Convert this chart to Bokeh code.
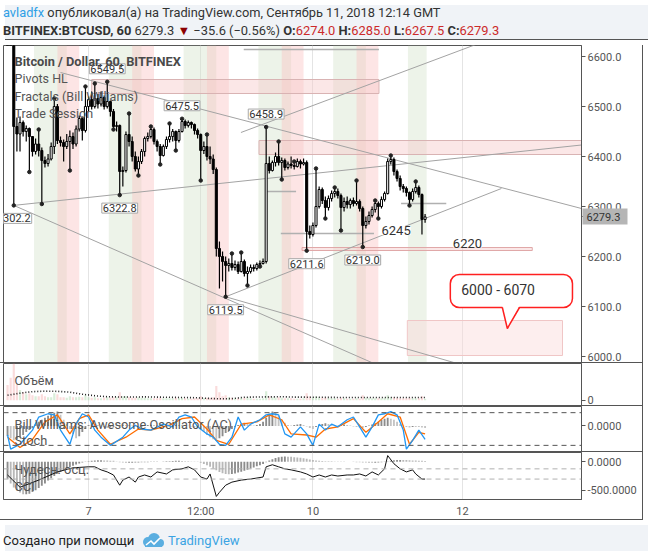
from bokeh.plotting import figure
from bokeh.models import (Range1d, FixedTicker, Grid, LinearAxis, Label, Span,
                          PrintfTickFormatter, Div, ColumnDataSource)
from bokeh.layouts import column
from bokeh.embed import file_html
from bokeh.resources import INLINE

# ---------------- data ----------------
SYMBOL = "BITFINEX:BTCUSD"
INTERVAL = "60"
AUTHOR = "avladfx"
PUBLISHED = "Сентябрь 11, 2018 12:14 GMT"
LAST = 6279.3
CHANGE = -35.6
CHANGE_PCT = -0.56
Q_OPEN, Q_HIGH, Q_LOW, Q_CLOSE = 6274.0, 6285.0, 6267.5, 6279.3

# hours counted from 7 Sep 2018 00:00 (hourly bars)
HOURS = list(range(-26, 109))
FIRST_OPEN = 6720
CLOSE = [6705, 6690, 6460, 6445, 6468, 6450, 6456, 6440, 6410, 6425, 6412, 6392, 6386,
         6395, 6420, 6500, 6432, 6428, 6420, 6430, 6440, 6425, 6455, 6476, 6452, 6500,
         6514, 6500, 6516, 6505, 6518, 6500, 6510, 6490, 6460, 6462, 6370, 6372, 6444,
         6430, 6400, 6375, 6390, 6410, 6436, 6440, 6454, 6430, 6420, 6402, 6420, 6434,
         6440, 6450, 6432, 6450, 6470, 6462, 6468, 6464, 6452, 6444, 6412, 6420, 6400,
         6395, 6374, 6216, 6200, 6190, 6182, 6186, 6178, 6184, 6170, 6190, 6166, 6170,
         6178, 6176, 6184, 6186, 6190, 6386, 6372, 6388, 6400, 6388, 6392, 6378, 6385,
         6382, 6380, 6390, 6385, 6388, 6250, 6244, 6262, 6300, 6334, 6312, 6298, 6316,
         6326, 6330, 6322, 6298, 6310, 6304, 6312, 6306, 6310, 6296, 6262, 6270, 6282,
         6294, 6306, 6300, 6314, 6326, 6390, 6394, 6370, 6356, 6340, 6336, 6328, 6314,
         6330, 6338, 6324, 6274, 6279.3]
HIGH = [6740, 6720, 6700, 6478, 6480, 6472, 6462, 6458, 6440, 6436, 6454, 6418, 6400,
        6405, 6428, 6516, 6505, 6440, 6434, 6445, 6452, 6448, 6462, 6482, 6480, 6540,
        6520, 6530, 6546, 6525, 6530, 6522, 6549.5, 6512, 6495, 6470, 6464, 6380, 6450,
        6486, 6440, 6410, 6400, 6415, 6440, 6448, 6460, 6458, 6434, 6425, 6424, 6440,
        6466, 6455, 6452, 6455, 6475.5, 6474, 6472, 6470, 6466, 6456, 6446, 6430, 6444,
        6420, 6404, 6378, 6230, 6210, 6200, 6196, 6206, 6192, 6190, 6208, 6194, 6180,
        6184, 6184, 6188, 6192, 6196, 6458.9, 6400, 6392, 6408, 6430, 6398, 6396, 6390,
        6400, 6390, 6396, 6394, 6396, 6392, 6262, 6268, 6376, 6340, 6338, 6320, 6322,
        6332, 6338, 6336, 6326, 6318, 6320, 6316, 6318, 6352, 6314, 6300, 6280, 6290,
        6300, 6312, 6310, 6320, 6330, 6396, 6402, 6398, 6374, 6362, 6345, 6340, 6330,
        6336, 6350, 6342, 6326, 6285]
LOW = [6680, 6660, 6302.2, 6410, 6410, 6440, 6430, 6369, 6400, 6404, 6400, 6305, 6378,
       6380, 6392, 6405, 6425, 6420, 6390, 6415, 6372, 6415, 6420, 6450, 6432, 6448,
       6490, 6494, 6496, 6496, 6500, 6494, 6496, 6480, 6454, 6450, 6322.8, 6340, 6368,
       6420, 6390, 6370, 6362, 6385, 6400, 6430, 6436, 6424, 6410, 6384, 6400, 6415,
       6428, 6430, 6412, 6428, 6448, 6456, 6458, 6456, 6444, 6436, 6352, 6405, 6392,
       6385, 6365, 6200, 6136, 6150, 6119.5, 6170, 6172, 6172, 6165, 6168, 6160, 6142,
       6166, 6170, 6172, 6180, 6184, 6186, 6366, 6370, 6380, 6382, 6354, 6372, 6374,
       6376, 6374, 6378, 6376, 6382, 6211.6, 6236, 6240, 6258, 6296, 6305, 6276, 6292,
       6310, 6318, 6316, 6252, 6290, 6296, 6296, 6300, 6302, 6290, 6219, 6256, 6264,
       6278, 6288, 6276, 6296, 6310, 6324, 6384, 6362, 6350, 6332, 6328, 6320, 6302,
       6310, 6326, 6318, 6244, 6267.5]
VOLUME = [1500, 2200, 3700, 1500, 1000, 800, 600, 700, 500, 400, 400, 600, 400, 300, 300,
          700, 600, 300, 300, 250, 400, 300, 300, 350, 300, 500,
          300, 250, 300, 200, 200, 250, 300, 250, 300, 300,
          800, 400, 400, 300, 250, 250, 300, 250, 250, 200,
          200, 200, 200, 250, 200, 200, 200, 200, 250, 200,
          250, 200, 150, 150, 200, 200, 400, 200, 250, 250,
          300, 1400, 800, 400, 500, 300, 250, 200, 200, 250,
          250, 300, 200, 150, 150, 150, 200, 900, 400, 300,
          250, 300, 250, 200, 200, 200, 150, 150, 150, 200,
          700, 400, 300, 400, 300, 250, 250, 200, 200, 200,
          150, 250, 200, 150, 150, 150, 200, 150, 500, 250,
          200, 200, 200, 200, 200, 250, 500, 300, 300, 250,
          200, 200, 200, 250, 200, 200, 200, 400, 150]
VOL_MA_HOURS = [-26, -22, -18, -14, -10, -6, -2, 2, 6, 10, 14, 18, 22, 26, 30, 34, 38, 42,
                46, 50, 54, 58, 62, 66, 70, 74, 78, 82, 86, 90, 94, 98, 102, 106, 108]
VOL_MA = [500, 700, 850, 900, 880, 800, 600, 450, 350, 330, 320, 340, 320, 300, 280, 260,
          200, 150, 170, 300, 330, 340, 350, 320, 310, 300, 290, 280, 280, 280, 280, 280,
          280, 280, 280]
AC = [-10, -12, -14, -13, -11, -9, -6, -4, -2, 2, 4, 6, 8, 10, 12, 13, 14, 11, 6, 2,
      -3, -8, -12, -10, -6, -3, 1, 3, 2, 1,
      0.5, -1, -2, -1.5, -1, 0.5, 1, 1.5, 1,
      0.8, 0.5, -0.5, -1, -0.8, 0.5, 1, 1.2, 1, 0.6, -0.3, -0.5, 0.3,
      0.6, 1, 1.2, 1, 0.8, 0.5, 0.2, -0.5, -1, -2,
      -4, -6, -9, -11, -13, -14, -12, -10, -7, -5, -3,
      -1, 1, 2, 3, 2, 1, 0.5, 1, 2,
      4, 8, 12, 14, 13, 10, 6, 3,
      1, 0.5, 1, 1.5, 2, 1, -0.5, -2, -3,
      -1, 1, 2, 2.5, 2, 1.5, 1, 0.5, 1, 1.5,
      1, 0.5, -0.5, -1, -1.5, -2, -1, 0.5, 1.5, 2.5,
      4, 6, 7, 8, 7, 6, 4,
      2, 0.5, -1, -1.5, -1, -0.5, -1, -1.5, -2]
AO = [-300, -380, -450, -500, -540, -570, -570, -560, -530, -500, -460, -420, -380, -330,
      -290, -250, -210, -180, -150, -120, -95, -70, -50, -30, -15, -5,
      10, 15, 20, 25, 25, 22, 20, 18, 15,
      -5, -10, -15, -20, -20, -18, -15, -12, -10, -10, -8, -5,
      -5, -3, 0, 5, 8, 10, 12, 15, 15, 12, 10, 8, 5, 2, -5,
      -20, -40, -60, -90, -120, -150, -180, -200, -215, -220, -215,
      -205, -190, -175, -160, -140, -120, -100, -80, -60, -40,
      -10, 20, 45, 65, 80, 88, 90, 88, 85, 80,
      75, 70, 60, 50, 40, 30,
      20, 15, 12, 10, 8, 6, 5, 4, 3, 2, 0, -2,
      -5, -8, -10, -12, -15, -18, -20, -18, -15, -10, -5,
      5, 15, 25, 30, 32, 30, 28, 25, 22, 20, 18, 15, 12]
STOCH_K_HOURS = [-26, -25, -22, -18, -16, -13, -11, -9, -6, -4, -2, 0, 2, 4, 7, 11, 13, 15,
                 17, 20, 24, 27, 29, 31, 33, 35, 38, 40, 42, 44, 46, 48, 50, 52, 55, 57,
                 59, 61, 63, 65, 68, 70, 72, 74, 76, 78, 80, 83, 85, 87, 89, 91, 93, 95,
                 97, 99, 101, 102, 104, 106, 108]
STOCH_K = [39, 13, 22, 48, 72, 78, 76, 48, 22, 59, 78, 72, 48, 35, 20, 35, 48, 57, 50, 48,
           59, 54, 72, 76, 72, 54, 41, 35, 22, 20, 35, 72, 48, 59, 67, 76, 78, 76, 41, 35,
           54, 41, 20, 59, 48, 59, 54, 67, 72, 54, 35, 54, 76, 78, 82, 76, 48, 13, 29, 48, 31]
STOCH_D_HOURS = [-26, -22, -18, -14, -10, -6, -3, 0, 3, 7, 12, 16, 20, 26, 30, 34, 38, 41,
                 45, 49, 54, 58, 62, 65, 70, 73, 76, 80, 85, 89, 93, 96, 100, 103, 106, 108]
STOCH_D = [35, 16, 31, 63, 76, 41, 69, 76, 48, 22, 35, 50, 48, 57, 69, 72, 50, 29, 22, 59,
           63, 76, 67, 41, 39, 35, 50, 54, 69, 44, 63, 78, 72, 22, 44, 41]
STOCH_LEVELS = [80, 20]
CCI_HOURS = [-26, -22, -16, -10, -5, 0, 2, 4, 6, 8, 10, 11, 13, 15, 16, 18, 20, 22, 25, 27,
             30, 32, 34, 36, 38, 39, 41, 42, 44, 46, 49, 52, 56, 57, 59, 61, 63, 65, 68, 70,
             72, 74, 76, 78, 80, 83, 85, 87, 89, 91, 93, 95, 96, 98, 100, 102, 104, 105, 107, 108]
CCI = [-20, -260, -120, 40, 120, 140, 140, 80, 40, -20, -220, -120, -60, -160, -60, -20, -60,
       40, 0, 80, 100, 140, 80, -60, -100, 0, -440, -360, -220, -160, -120, -100, -60, 140,
       180, 140, 100, 80, 40, 0, -60, -20, -60, -20, -40, -20, -20, 0, -40, 40, -20, 100,
       360, 200, 100, 40, 80, 0, -100, -100]
CCI_LEVELS = [100, -100]

FRACTAL_UP_HOURS = [-16, -11, -1, 2, 6, 13, 20, 26, 30, 38, 46, 49, 57, 61, 66, 73, 79, 86,
                    92, 97, 105]
FRACTAL_DOWN_HOURS = [-24, -19, -15, -6, 8, 10, 16, 23, 28, 36, 44, 51, 55, 62, 70, 76, 81,
                      88, 93, 103]
PIVOT_HIGH_HOURS = [6, 30, 57]
PIVOT_LOW_HOURS = [-24, 10, 44, 70, 88]

X_TICKS = [0, 36, 72, 120]
X_TICK_LABELS = ["7", "12:00", "10", "12"]
PRICE_TICKS = [6000, 6100, 6200, 6300, 6400, 6500, 6600]
VOL_TICKS = [0]
AC_TICKS = [0]
AO_TICKS = [0, -500]

# trading sessions (hour of day)
SESSION_DAYS = [-24, 0, 24, 48, 72, 96]
GREEN_SESSION = (6.5, 17.0)
RED_SESSION = (14.0, 21.0)
LAST_BAR_EDGE = 108.5

# user drawings (hour, price)
TREND_X0 = [-9, -24, -24, 44, 44, 48.9]
TREND_Y0 = [6568, 6302.2, 6302.2, 6119.5, 6119.5, 6448]
TREND_X1 = [158.2, 158.2, 100, 120, 132.5, 126]
TREND_Y1 = [6296, 6423, 5963, 5983, 6336, 6628]
HLINE_X0 = [49.8, 56.9, 61.7, 100.3]
HLINE_X1 = [93.2, 66.6, 91.6, 114.8]
HLINE_Y = [6614, 6330, 6246, 6306]
RECT_LEFT = [1, 54.7, 102.3, 68.5]
RECT_RIGHT = [93.2, 158.2, 152.1, 142.4]
RECT_BOTTOM = [6526, 6404, 6002, 6212]
RECT_TOP = [6554, 6432, 6072, 6218]
NOTE_TEXT = ["6245", "6220"]
NOTE_X = [98.7, 121.6]
NOTE_Y = [6252, 6227]
CALLOUT_TEXT = "6000 - 6070"
CALLOUT_BOX = dict(left=116.1, right=155.3, bottom=6098, top=6164)
CALLOUT_TAIL_X = [132.8, 134.4, 138.3]
CALLOUT_TAIL_Y = [6098, 6056, 6098]
CALLOUT_TEXT_X, CALLOUT_TEXT_Y = 119.6, 6134

# ---------------- ranges / styles ----------------
FONT = "Roboto"
BG = "#f0f3f7"
FRAME = "#555555"
X_START, X_END = -27.3, 158.2
PRICE_RANGE = (5986, 6622)
VOL_RANGE = (-600, 3600)
AC_RANGE = (-26, 19)
STOCH_RANGE = (6.9, 91.3)
AO_RANGE = (-660.6, 161)
CCI_RANGE = (-500, 420)
W = 577
SEP = f"1px solid {FRAME}"

xr = Range1d(X_START, X_END)


def make_fig(h, yr, bottom_axis=False):
    f = figure(x_range=xr, y_range=Range1d(*yr), frame_width=W, frame_height=h,
               x_axis_location="below" if bottom_axis else None,
               y_axis_location="right", toolbar_location=None, output_backend="svg",
               min_border_left=3, min_border_top=0, min_border_bottom=0,
               min_border_right=62, styles={"border-right": SEP, "border-bottom": SEP})
    f.outline_line_color = FRAME
    f.outline_line_width = 1
    f.grid.grid_line_color = None
    f.add_layout(Grid(dimension=0, ticker=FixedTicker(ticks=X_TICKS),
                      grid_line_color="#e4e4e4"))
    f.border_fill_color = "white"
    ax = f.yaxis[0]
    ax.axis_line_color = FRAME
    ax.major_tick_line_color = FRAME
    ax.major_tick_out = 4
    ax.major_tick_in = 0
    ax.minor_tick_line_color = None
    ax.major_label_text_font = FONT
    ax.major_label_text_font_size = "11px"
    ax.major_label_text_color = "#555555"
    ax.major_label_standoff = 2
    return f


def pane_label(f, text, yend, dy, size="12.5px", style="normal", color="#555555"):
    f.add_layout(Label(x=X_START, y=yend, x_offset=11, y_offset=-dy, text=text,
                       text_baseline="middle", text_font=FONT, text_font_size=size,
                       text_font_style=style, text_color=color))


# ---------------- main price pane ----------------
p = make_fig(317, PRICE_RANGE)
p.yaxis[0].ticker = FixedTicker(ticks=PRICE_TICKS + [LAST])
p.yaxis[0].formatter = PrintfTickFormatter(format="%.1f")
p.yaxis[0].major_label_overrides = {LAST: ""}
last_axis = LinearAxis(ticker=FixedTicker(ticks=[LAST]),
                       formatter=PrintfTickFormatter(format="%.1f"),
                       axis_line_color=None, major_tick_in=42, major_tick_out=3,
                       major_tick_line_color="#b5b5b5", major_tick_line_width=16,
                       major_tick_line_cap="butt", minor_tick_line_color=None,
                       minor_tick_out=0, minor_tick_in=0, major_label_standoff=-41,
                       major_label_text_font=FONT, major_label_text_font_size="11px",
                       major_label_text_color="#333333")
p.add_layout(last_axis, "right")

g_l, g_r, r_l, r_r = [], [], [], []
for d in SESSION_DAYS:
    a, b = d + GREEN_SESSION[0], min(d + GREEN_SESSION[1], LAST_BAR_EDGE)
    if a < b:
        g_l.append(a); g_r.append(b)
    a, b = d + RED_SESSION[0], min(d + RED_SESSION[1], LAST_BAR_EDGE)
    if a < b:
        r_l.append(a); r_r.append(b)
p.quad(left=g_l, right=g_r, bottom=PRICE_RANGE[0], top=PRICE_RANGE[1],
       fill_color="#d3e2cb", fill_alpha=0.42, line_color=None)
p.quad(left=r_l, right=r_r, bottom=PRICE_RANGE[0], top=PRICE_RANGE[1],
       fill_color="#fbc2c2", fill_alpha=0.42, line_color=None)

p.quad(left=RECT_LEFT, right=RECT_RIGHT, bottom=RECT_BOTTOM, top=RECT_TOP,
       fill_color=["#f7c9c9", "#f7c9c9", "#fbdada", "#f7c9c9"], fill_alpha=0.45,
       line_color=["#d9b3b3", "#d9b3b3", "#f0c6c6", "#e0a8a8"], line_width=1)

p.segment(x0=TREND_X0, y0=TREND_Y0, x1=TREND_X1, y1=TREND_Y1,
          line_color="#a3a3a3", line_width=1)
p.segment(x0=HLINE_X0, y0=HLINE_Y, x1=HLINE_X1, y1=HLINE_Y,
          line_color="#b0b0b0", line_width=1.5)

p.quad(left=[CALLOUT_BOX["left"]], right=[CALLOUT_BOX["right"]],
       bottom=[CALLOUT_BOX["bottom"]], top=[CALLOUT_BOX["top"]],
       fill_color="white", line_color="#ff2020", line_width=1.5, border_radius=9)
p.patch(x=CALLOUT_TAIL_X, y=[CALLOUT_TAIL_Y[0] + 3, CALLOUT_TAIL_Y[1], CALLOUT_TAIL_Y[2] + 3],
        fill_color="white", line_color=None)
p.line(x=CALLOUT_TAIL_X, y=CALLOUT_TAIL_Y, line_color="#ff2020", line_width=1.5)

opens = [FIRST_OPEN] + CLOSE[:-1]
src = ColumnDataSource(dict(
    x=HOURS, h=HIGH, l=LOW,
    top=[max(o, c) for o, c in zip(opens, CLOSE)],
    bot=[min(o, c) for o, c in zip(opens, CLOSE)],
    fill=["#ffffff" if c >= o else "#000000" for o, c in zip(opens, CLOSE)]))
p.segment(x0="x", y0="l", x1="x", y1="h", source=src, line_color="#000000", line_width=1.2)
p.vbar(x="x", top="top", bottom="bot", width=0.66, source=src, fill_color="fill",
       line_color="#000000", line_width=1)

p.scatter(x=FRACTAL_UP_HOURS, y=[HIGH[HOURS.index(t)] for t in FRACTAL_UP_HOURS],
          size=3.5, color="#222222")
p.scatter(x=FRACTAL_DOWN_HOURS, y=[LOW[HOURS.index(t)] for t in FRACTAL_DOWN_HOURS],
          size=3.5, color="#222222")

for t in PIVOT_HIGH_HOURS:
    v = HIGH[HOURS.index(t)]
    p.add_layout(Label(x=t, y=v, y_offset=8, text=f"{v:.1f}", text_align="center",
                       text_baseline="bottom", text_font=FONT, text_font_size="11px",
                       text_color="#333333", background_fill_color="white",
                       border_line_color="#a8a8a8", padding=1))
for t in PIVOT_LOW_HOURS:
    v = LOW[HOURS.index(t)]
    p.add_layout(Label(x=t, y=v, y_offset=-8, text=f"{v:.1f}", text_align="center",
                       text_baseline="top", text_font=FONT, text_font_size="11px",
                       text_color="#333333", background_fill_color="white",
                       border_line_color="#a8a8a8", padding=1))
for txt, x, y in zip(NOTE_TEXT, NOTE_X, NOTE_Y):
    p.add_layout(Label(x=x, y=y, text=txt, text_align="center", text_baseline="middle",
                       text_font=FONT, text_font_size="13px", text_color="#333333",
                       background_fill_color="white"))
p.add_layout(Label(x=CALLOUT_TEXT_X, y=CALLOUT_TEXT_Y, text=CALLOUT_TEXT,
                   text_baseline="middle", text_font=FONT, text_font_size="14px",
                   text_color="#333333"))

pane_label(p, f"Bitcoin / Dollar, {INTERVAL}, BITFINEX", PRICE_RANGE[1], 16, "12.8px", "bold", "#4a4a4a")
pane_label(p, "Pivots HL", PRICE_RANGE[1], 33)
pane_label(p, "Fractals (Bill Williams)", PRICE_RANGE[1], 51)
pane_label(p, "Trade Session", PRICE_RANGE[1], 68)

# ---------------- volume pane ----------------
pv = make_fig(42, VOL_RANGE)
pv.yaxis[0].ticker = FixedTicker(ticks=VOL_TICKS)
pv.vbar(x=HOURS, top=VOLUME, bottom=0, width=0.7,
        fill_color=["#9fd4a0" if c >= o else "#f2a5a5" for o, c in zip(opens, CLOSE)],
        fill_alpha=0.4, line_color=None)
pv.line(x=VOL_MA_HOURS, y=VOL_MA, line_color="#222222", line_width=1.6, line_dash="1 2")
pane_label(pv, "Объём", VOL_RANGE[1], 17)

# ---------------- AC / Stoch pane ----------------
pa = make_fig(45, AC_RANGE)
pa.extra_y_ranges = {"stoch": Range1d(*STOCH_RANGE)}
pa.yaxis[0].ticker = FixedTicker(ticks=AC_TICKS)
pa.yaxis[0].major_label_overrides = {0: "0.0000"}
ac_col = ["#8c8c8c"] + ["#8c8c8c" if AC[i] >= AC[i - 1] else "#c4c4c4" for i in range(1, len(AC))]
pa.vbar(x=HOURS, top=AC, bottom=0, width=0.6, fill_color=ac_col, line_color=None)
for lv in STOCH_LEVELS:
    pa.add_layout(Span(location=lv, dimension="width", y_range_name="stoch",
                       line_color="#555555", line_dash="5 4", line_width=1))
pa.line(x=STOCH_D_HOURS, y=STOCH_D, y_range_name="stoch", line_color="#ff6d00", line_width=1.3)
pa.line(x=STOCH_K_HOURS, y=STOCH_K, y_range_name="stoch", line_color="#2196f3", line_width=1.3)
pane_label(pa, "Bill Williams: Awesome Oscillator (AC)", AC_RANGE[1], 18, "12.8px")
pane_label(pa, "Stoch", AC_RANGE[1], 34, "12.8px")

# ---------------- AO / CCI pane ----------------
pc = make_fig(46, AO_RANGE, bottom_axis=True)
pc.extra_y_ranges = {"cci": Range1d(*CCI_RANGE)}
pc.yaxis[0].ticker = FixedTicker(ticks=AO_TICKS)
pc.yaxis[0].major_label_overrides = {0: "0.0000", -500: "-500.0000"}
ao_col = ["#8c8c8c"] + ["#8c8c8c" if AO[i] >= AO[i - 1] else "#b8b8b8" for i in range(1, len(AO))]
pc.vbar(x=HOURS, top=AO, bottom=0, width=0.6, fill_color=ao_col, line_color=None)
for lv in CCI_LEVELS:
    pc.add_layout(Span(location=lv, dimension="width", y_range_name="cci",
                       line_color="#b0b0b0", line_dash="5 4", line_width=1))
pc.line(x=CCI_HOURS, y=CCI, y_range_name="cci", line_color="#111111", line_width=1)
pane_label(pc, "Чудесн. осц.", AO_RANGE[1], 17, "12.8px")
pane_label(pc, "CCI", AO_RANGE[1], 34, "12.8px")

xa = pc.xaxis[0]
xa.ticker = FixedTicker(ticks=X_TICKS)
xa.major_label_overrides = dict(zip(X_TICKS, X_TICK_LABELS))
xa.axis_line_color = FRAME
xa.major_tick_line_color = None
xa.major_tick_out = 0
xa.major_tick_in = 0
xa.minor_tick_line_color = None
xa.minor_tick_out = 0
xa.major_label_standoff = 5
xa.major_label_text_font = FONT
xa.major_label_text_font_size = "11px"
xa.major_label_text_color = "#555555"
pad = LinearAxis(ticker=FixedTicker(ticks=[]), axis_line_color=None,
                 major_tick_line_color=None, minor_tick_line_color=None,
                 major_tick_out=0, minor_tick_out=0,
                 major_label_text_font_size="0px", major_label_standoff=0)
pc.add_layout(pad, "below")

# ---------------- header / footer ----------------
chg = f"{CHANGE:.1f}".replace("-", "−")
pct = f"{CHANGE_PCT:.2f}".replace("-", "−")
RED = "#cc2a2a"
header = Div(width=643, height=35, styles={"background-color": BG, "border-bottom": SEP}, text=(
    f'<div style="font-family:Roboto,sans-serif;color:#333;line-height:18px;'
    f'margin-top:-1px;margin-left:-2px;white-space:nowrap">'
    f'<span style="font-size:12.8px"><span style="color:#2e9fe6">{AUTHOR}</span> '
    f'опубликовал(а) на TradingView.com, {PUBLISHED}</span><br>'
    f'<span style="font-size:12.9px"><b>{SYMBOL}, {INTERVAL}</b> {LAST:.1f} '
    f'<span style="color:#8b0000">&#9660;</span> {chg} ({pct}%) '
    f'<b>O:</b><span style="color:{RED}">{Q_OPEN:.1f}</span> <b>H:</b><span style="color:{RED}">{Q_HIGH:.1f}</span> '
    f'<b>L:</b><span style="color:{RED}">{Q_LOW:.1f}</span> <b>C:</b><span style="color:{RED}">{Q_CLOSE:.1f}</span>'
    f'</span></div>'))
logo = ('<svg width="24" height="16" viewBox="0 0 24 16" style="vertical-align:-3px">'
        '<circle cx="7" cy="10" r="5" fill="#5aaee0"/><circle cx="13" cy="7" r="6" fill="#5aaee0"/>'
        '<circle cx="19" cy="11" r="4" fill="#5aaee0"/><rect x="4" y="10" width="17" height="5" fill="#5aaee0"/>'
        '<polyline points="5,13 10,9 13,12 19,6" stroke="white" stroke-width="1.6" fill="none"/></svg>')
footer = Div(width=643, height=26, styles={"background-color": BG}, text=(
    f'<div style="font-family:Roboto,sans-serif;font-size:13px;color:#222;padding-top:7px;'
    f'margin-left:-2px;line-height:18px;white-space:nowrap">Создано при помощи&nbsp;&nbsp;{logo}&nbsp;'
    f'<span style="color:#3ba3e3">TradingView</span></div>'))

layout = column(header, p, pv, pa, pc, footer, spacing=0)
open("out.html", "w").write(file_html(layout, INLINE))
